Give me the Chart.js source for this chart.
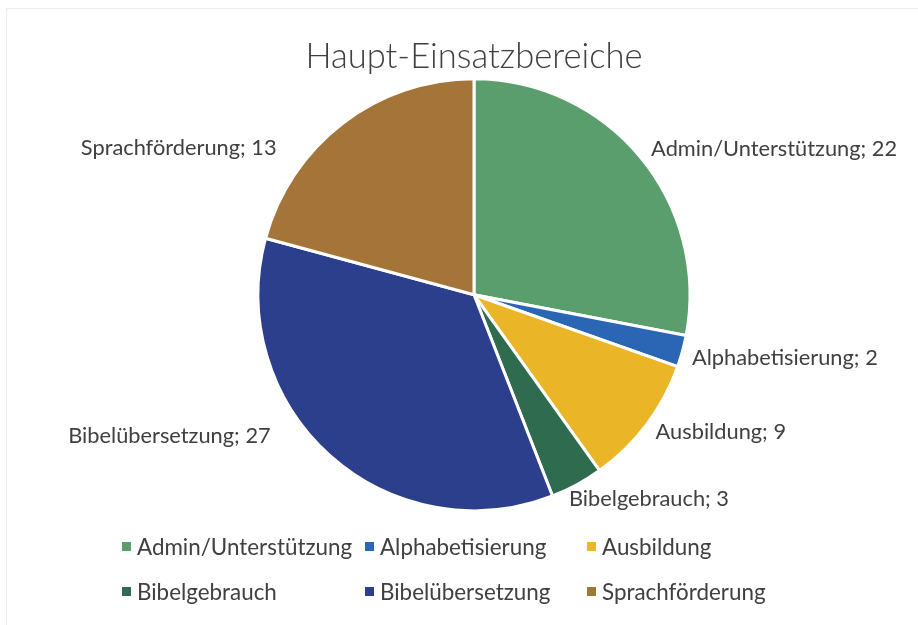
<!DOCTYPE html>
<html>
<head>
<meta charset="utf-8">
<script src="https://cdn.jsdelivr.net/npm/chart.js@4/dist/chart.umd.min.js"></script>
<style>
    body { margin: 0; background: #fff; }
    #wrap { position: relative; width: 918px; height: 625px; }
    #frame { position: absolute; left: 6px; top: 8px; right: 0; bottom: 0; border-left: 1px solid #ececec; border-top: 1px solid #ececec; }
    #legend {
        position: absolute; left: 122px; top: 533px;
        display: grid; grid-template-columns: 243px 222px 220px; row-gap: 18px;
        font-family: Lato, sans-serif; font-size: 22.4px; color: #404040;
    }
    #legend div { display: flex; align-items: center; height: 27px; white-space: nowrap; }
    #legend span.box { width: 9px; height: 9px; margin-right: 6px; display: inline-block; }
</style>
</head>
<body>
<div id="wrap">
    <div id="frame"></div>
    <canvas id="pieChart" width="918" height="625"></canvas>
    <div id="legend"></div>
</div>
<script>
// Data
const categories = ['Admin/Unterstützung', 'Alphabetisierung', 'Ausbildung', 'Bibelgebrauch', 'Bibelübersetzung', 'Sprachförderung'];
// numbers printed in the slice labels
const counts = [22, 2, 9, 3, 27, 13];
// slice sizes as they are drawn in the picture (measured from the slice angles,
// they do not quite follow the printed numbers)
const sliceSizes = [21.3, 1.8, 7.4, 3.0, 26.7, 15.8];
const colors = ['#5b9e6e', '#2a66b3', '#eab526', '#2f6b4f', '#2c3f8c', '#a57439'];

const textColor = '#404040';
const fontFamily = 'Lato, sans-serif';

// Small shifts so labels sit roughly where the original "best fit" put them
const labelNudge = {
    'Admin/Unterstützung': [-1, 1],
    'Alphabetisierung': [-5, 3],
    'Ausbildung': [-3, -2],
    'Bibelgebrauch': [-15, 1],
    'Bibelübersetzung': [-49, -31],
    'Sprachförderung': [-57, 37]
};

// Draws "Name; value" outside every slice
const sliceLabels = {
    id: 'sliceLabels',
    afterDatasetsDraw(chart) {
        const ctx = chart.ctx;
        const meta = chart.getDatasetMeta(0);
        ctx.save();
        ctx.font = `21.8px ${fontFamily}`;
        ctx.fillStyle = textColor;
        ctx.textBaseline = 'middle';
        meta.data.forEach((arc, i) => {
            const { x, y, startAngle, endAngle, outerRadius } = arc.getProps(['x', 'y', 'startAngle', 'endAngle', 'outerRadius'], true);
            const mid = (startAngle + endAngle) / 2;
            const r = outerRadius + 15;
            const nudge = labelNudge[categories[i]] || [0, 0];
            const px = x + Math.cos(mid) * r + nudge[0];
            const py = y + Math.sin(mid) * r + nudge[1];
            ctx.textAlign = Math.cos(mid) >= 0 ? 'left' : 'right';
            ctx.fillText(`${categories[i]}; ${counts[i]}`, px, py);
        });
        ctx.restore();
    }
};

const ctx = document.getElementById('pieChart').getContext('2d');
new Chart(ctx, {
    type: 'pie',
    data: {
        labels: categories,
        datasets: [{
            data: sliceSizes,
            backgroundColor: colors,
            borderColor: '#ffffff',
            borderWidth: 3
        }]
    },
    options: {
        responsive: false,
        animation: false,
        radius: 216,
        layout: { padding: { top: 36, left: 38, right: 8, bottom: 115 } },
        plugins: {
            legend: { display: false },
            tooltip: { enabled: false },
            title: {
                display: true,
                text: 'Haupt-Einsatzbereiche',
                color: textColor,
                font: { family: fontFamily, size: 34.6, weight: 300 },
                padding: { top: 0, bottom: 2 }
            }
        }
    },
    plugins: [sliceLabels]
});

// Legend laid out in three columns like the original
const legend = document.getElementById('legend');
categories.forEach((name, i) => {
    const item = document.createElement('div');
    const box = document.createElement('span');
    box.className = 'box';
    box.style.background = colors[i];
    item.appendChild(box);
    item.appendChild(document.createTextNode(name));
    legend.appendChild(item);
});
</script>
</body>
</html>
